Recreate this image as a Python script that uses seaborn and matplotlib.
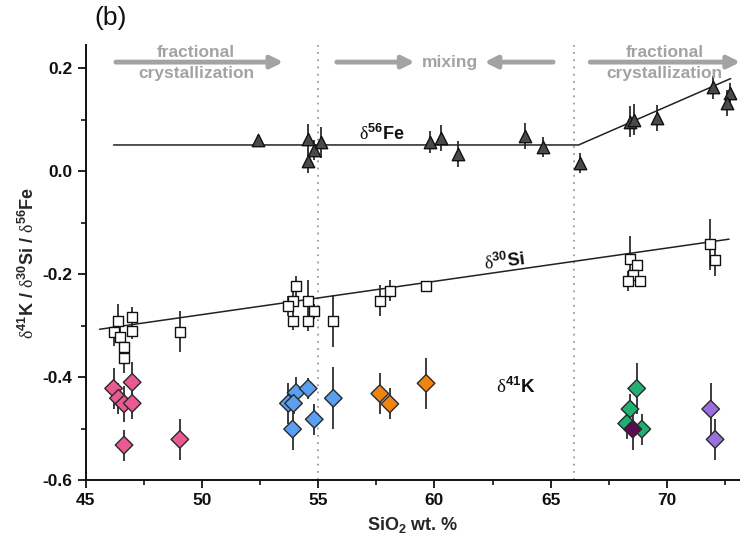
import numpy as np
import pandas as pd
import matplotlib
matplotlib.use("Agg")
import matplotlib.pyplot as plt
import seaborn as sns
from matplotlib.ticker import MultipleLocator

# ---------------- data ----------------
fe_x = [52.4, 54.58, 54.8, 55.1, 54.58, 59.8, 60.28, 61.0, 63.9, 64.67, 66.27,
        68.39, 68.6, 69.57, 71.98, 72.7, 72.58]
fe_y = [0.060, 0.062, 0.041, 0.056, 0.020, 0.057, 0.065, 0.034, 0.068, 0.047, 0.016,
        0.096, 0.100, 0.104, 0.163, 0.152, 0.133]
fe_err = [0.01, 0.03, 0.02, 0.03, 0.024, 0.022, 0.025, 0.025, 0.025, 0.02, 0.02,
          0.03, 0.03, 0.025, 0.022, 0.02, 0.025]

si_x = [46.2, 46.4, 46.48, 46.65, 46.65, 47.0, 46.98, 49.05, 54.05, 53.9, 53.72,
        53.9, 54.57, 54.83, 54.57, 55.65, 57.65, 58.08, 59.64, 68.41, 68.7, 68.53,
        68.31, 68.86, 71.85, 72.07]
si_y = [-0.312, -0.291, -0.322, -0.342, -0.362, -0.283, -0.311, -0.312, -0.223, -0.252,
        -0.262, -0.291, -0.252, -0.272, -0.291, -0.291, -0.252, -0.232, -0.223, -0.171,
        -0.183, -0.201, -0.213, -0.213, -0.142, -0.173]
si_err = [0.027, 0.033, 0.02, 0.03, 0.03, 0.02, 0.015, 0.04, 0.02, 0.02, 0.02, 0.018,
          0.04, 0.015, 0.02, 0.05, 0.03, 0.02, 0.005, 0.045, 0.01, 0.02, 0.02, 0.01,
          0.05, 0.03]

k_x = [46.2, 46.41, 46.65, 47.0, 47.0, 46.65, 49.05,
       53.72, 54.05, 53.94, 54.57, 53.9, 54.83, 55.65,
       57.65, 58.08, 59.64,
       68.7, 68.41, 68.27, 68.92,
       68.53,
       71.88, 72.07]
k_y = [-0.422, -0.441, -0.452, -0.410, -0.451, -0.532, -0.521,
       -0.451, -0.430, -0.451, -0.422, -0.501, -0.482, -0.441,
       -0.432, -0.452, -0.412,
       -0.422, -0.462, -0.490, -0.501,
       -0.501,
       -0.462, -0.521]
k_err = [0.04, 0.03, 0.035, 0.04, 0.03, 0.03, 0.04,
         0.04, 0.03, 0.02, 0.02, 0.04, 0.03, 0.06,
         0.04, 0.03, 0.05,
         0.05, 0.03, 0.03, 0.03,
         0.04,
         0.05, 0.04]
k_group = ["A"] * 7 + ["B"] * 7 + ["C"] * 3 + ["D"] * 4 + ["E"] + ["F"] * 2
k_palette = {"A": "#ea5a92", "B": "#5a9ff0", "C": "#f0840f",
             "D": "#1fb072", "E": "#5a0a4e", "F": "#9b70de"}

# fit lines (endpoints)
fe_fit_x = [46.2, 66.2, 72.74]
fe_fit_y = [0.051, 0.051, 0.180]
si_fit_x = [45.6, 72.67]
si_fit_y = [-0.307, -0.132]

fe_df = pd.DataFrame({"x": fe_x, "y": fe_y})
si_df = pd.DataFrame({"x": si_x, "y": si_y})
k_df = pd.DataFrame({"x": k_x, "y": k_y, "g": k_group})

# ---------------- figure ----------------
sns.set_style("ticks")
plt.rcParams["font.family"] = ["Liberation Sans", "DejaVu Sans"]
plt.rcParams["mathtext.fontset"] = "custom"
plt.rcParams["mathtext.rm"] = "Liberation Serif"
plt.rcParams["mathtext.bf"] = "Liberation Sans:bold"
plt.rcParams["mathtext.it"] = "Liberation Sans:italic"

fig = plt.figure(figsize=(7.45, 5.37), dpi=100)
ax = fig.add_axes([0.115, 0.106, 0.877, 0.81])

ax.axvline(55, color="#9a9a9a", ls=(0, (1, 3)), lw=1.3, zorder=1)
ax.axvline(66, color="#9a9a9a", ls=(0, (1, 3)), lw=1.3, zorder=1)

ebkw = dict(fmt="none", ecolor="#3c3c3c", elinewidth=1.4, capsize=0, zorder=2)
ax.errorbar(fe_x, fe_y, yerr=fe_err, **ebkw)
ax.errorbar(si_x, si_y, yerr=si_err, **ebkw)
ax.errorbar(k_x, k_y, yerr=k_err, **ebkw)

ax.plot(fe_fit_x, fe_fit_y, color="#222222", lw=1.1, zorder=3)
ax.plot(si_fit_x, si_fit_y, color="#222222", lw=1.1, zorder=3)

sns.scatterplot(data=fe_df, x="x", y="y", marker="^", s=80, color="#4a4a4a",
                edgecolor="#111111", linewidth=1.0, ax=ax, zorder=4, legend=False)
sns.scatterplot(data=si_df, x="x", y="y", marker="s", s=62, color="white",
                edgecolor="#111111", linewidth=1.0, ax=ax, zorder=4, legend=False)
sns.scatterplot(data=k_df, x="x", y="y", hue="g", palette=k_palette, marker="D",
                s=80, edgecolor="#2a2a2a", linewidth=1.0, ax=ax, zorder=4, legend=False)

ax.set_xlim(45, 73.1)
ax.set_ylim(-0.6, 0.245)
ax.xaxis.set_major_locator(MultipleLocator(5))
ax.xaxis.set_minor_locator(MultipleLocator(2.5))
ax.yaxis.set_major_locator(MultipleLocator(0.2))
ax.yaxis.set_minor_locator(MultipleLocator(0.1))
ax.yaxis.set_major_formatter(matplotlib.ticker.FormatStrFormatter("%.1f"))
sns.despine(ax=ax)
for s in ["left", "bottom"]:
    ax.spines[s].set_linewidth(1.4)
    ax.spines[s].set_color("#111111")
ax.tick_params(which="major", length=6, width=1.3, labelsize=12.5, colors="#111111")
ax.tick_params(which="minor", length=3.5, width=1.2, colors="#111111")
for lab in ax.get_xticklabels() + ax.get_yticklabels():
    lab.set_fontweight("bold")

ax.set_xlabel(r"SiO$_\mathbf{2}$ wt. %", fontsize=13, fontweight="bold", labelpad=5)
ax.set_ylabel(r"$\mathrm{\delta}^\mathbf{41}$K / $\mathrm{\delta}^\mathbf{30}$Si / $\mathrm{\delta}^\mathbf{56}$Fe",
              fontsize=13, fontweight="bold", labelpad=3)

# isotope labels
ax.text(57.75, 0.073, r"$\mathrm{\delta}^\mathbf{56}$Fe", fontsize=13, fontweight="bold",
        ha="center", va="center", color="#111111")
ax.text(63.0, -0.175, r"$\mathrm{\delta}^\mathbf{30}$Si", fontsize=13, fontweight="bold",
        ha="center", va="center", rotation=7, color="#111111")
ax.text(63.5, -0.419, r"$\mathrm{\delta}^\mathbf{41}$K", fontsize=13.5, fontweight="bold",
        ha="center", va="center", color="#111111")

# process annotations
gray = "#a3a3a3"
akw = dict(arrowstyle="-|>", color=gray, lw=3.5, mutation_scale=18, shrinkA=0, shrinkB=0)
ya = 0.212
ax.annotate("", xy=(53.5, ya), xytext=(46.3, ya), arrowprops=akw, annotation_clip=False)
ax.annotate("", xy=(59.15, ya), xytext=(55.8, ya), arrowprops=akw, annotation_clip=False)
ax.annotate("", xy=(62.15, ya), xytext=(65.1, ya), arrowprops=akw, annotation_clip=False)
ax.annotate("", xy=(73.15, ya), xytext=(66.7, ya), arrowprops=akw, annotation_clip=False)
tkw = dict(fontsize=12.5, fontweight="bold", color=gray, ha="center", va="center")
ax.text(49.75, 0.231, "fractional", **tkw)
ax.text(49.75, 0.190, "crystallization", **tkw)
ax.text(60.65, ya, "mixing", **tkw)
ax.text(69.9, 0.231, "fractional", clip_on=False, **tkw)
ax.text(69.9, 0.190, "crystallization", clip_on=False, **tkw)

fig.text(0.127, 0.966, "(b)", fontsize=19, ha="left", va="center", color="#111111")

fig.savefig("out.png", dpi=100)
